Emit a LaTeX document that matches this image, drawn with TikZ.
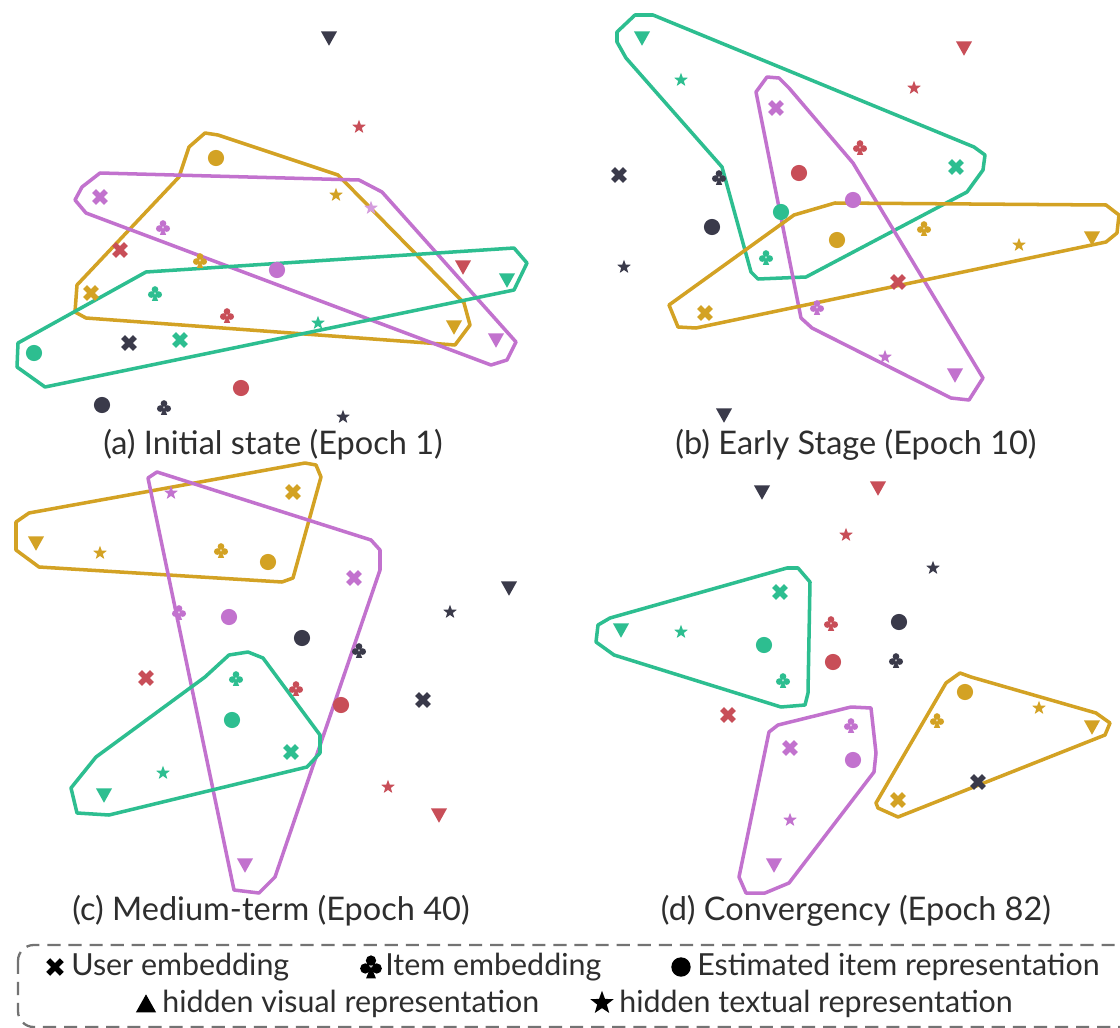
\documentclass[tikz,border=0pt]{standalone}
\usepackage{fontspec}
\setmainfont{Lato}
\newfontfamily\capfont{Lato}
\definecolor{cT}{HTML}{2DBE90}
\definecolor{cP}{HTML}{C272CE}
\definecolor{cG}{HTML}{D3A224}
\definecolor{cR}{HTML}{C84E58}
\definecolor{cD}{HTML}{3A3A4A}
\tikzset{
  mkuser/.pic={\draw[line width=3.1pt] (-3.4pt,-3.4pt)--(3.4pt,3.4pt) (-3.4pt,3.4pt)--(3.4pt,-3.4pt);},
  mkitem/.pic={\fill (0,2pt) circle[radius=1.9pt] (-2.1pt,-0.9pt) circle[radius=1.9pt] (2.1pt,-0.9pt) circle[radius=1.9pt];
                \fill (0,0) -- (-1.8pt,-4.5pt) -- (1.8pt,-4.5pt) -- cycle;},
  mkest/.pic={\fill (0,0) circle[radius=4.6pt];},
  mkvis/.pic={\fill (-4.6pt,3.8pt) -- (4.6pt,3.8pt) -- (0,-4.4pt) -- cycle;},
  mktxt/.pic={\fill (90:4.1pt) -- (126:1.7pt) -- (162:4.1pt) -- (198:1.7pt) -- (234:4.1pt) -- (270:1.7pt)
                -- (306:4.1pt) -- (342:1.7pt) -- (18:4.1pt) -- (54:1.7pt) -- cycle;},
  hull/.style={line width=2pt, line join=round},
  captxt/.style={font=\capfont\fontsize{18.5pt}{22pt}\selectfont, text=black!82, inner sep=0pt},
  lgd/.style={font=\fontsize{17.3pt}{20pt}\selectfont, text=black!82, inner sep=0pt, anchor=base west},
}
\newcommand\MkU[3]{\pic[#1] at (#2,#3) {mkuser};}
\newcommand\MkI[3]{\pic[#1] at (#2,#3) {mkitem};}
\newcommand\MkE[3]{\pic[#1] at (#2,#3) {mkest};}
\newcommand\MkV[3]{\pic[#1] at (#2,#3) {mkvis};}
\newcommand\MkT[3]{\pic[#1] at (#2,#3) {mktxt};}
\begin{document}
\begin{tikzpicture}[x=0.02cm,y=-0.02cm]
\useasboundingbox[fill=white] (0,0) rectangle (1120,1028);

% ---------------- panel (a)
\draw[hull,cG] (189,147) -- (205,133) -- (218,135) -- (338,175) -- (464,303) -- (470,325) -- (455,345)
  -- (86,318) -- (75,312) -- (77,285) -- (179,177) -- cycle;
\draw[hull,cP] (100,173) -- (359,180) -- (382,192) -- (516,342) -- (507,360) -- (491,365)
  -- (86,213) -- (75,200) -- (82,187) -- cycle;
\draw[hull,cT] (146,272) -- (514,248) -- (527,263) -- (514,290) -- (45,387) -- (17,367) -- (18,343) -- cycle;
\MkV{cD}{329}{38}
\MkT{cR}{359}{127}
\MkE{cG}{216}{158}
\MkU{cP}{100}{197}
\MkT{cG}{336}{195}
\MkT{cP!70}{371}{208}
\MkI{cP}{163}{227}
\MkU{cR}{120}{250}
\MkI{cG}{200}{260}
\MkE{cP}{277}{270}
\MkV{cR}{463}{267}
\MkV{cT}{507}{280}
\MkU{cG}{91}{293}
\MkI{cT}{155}{293}
\MkI{cR}{227}{315}
\MkT{cT}{318}{323}
\MkV{cG}{454}{327}
\MkU{cD}{129}{343}
\MkU{cT}{180}{340}
\MkE{cT}{34}{353}
\MkV{cP}{496}{340}
\MkE{cD}{102}{405}
\MkI{cD}{164}{407}
\MkE{cR}{241}{388}
\MkT{cD}{343}{417}
\node[captxt] (capa) at (273,445) {(a) Initial state (Epoch 1)};

% ---------------- panel (b)
\draw[hull,cT] (617,32) -- (635,15) -- (653,15) -- (974,147) -- (985,155) -- (983,170) -- (967,192)
  -- (806,277) -- (758,279) -- (751,272) -- (722,167) -- (626,58) -- (617,42) -- cycle;
\draw[hull,cP] (756,92) -- (767,77) -- (779,78) -- (789,88) -- (853,163) -- (983,378) -- (969,400)
  -- (951,398) -- (812,328) -- (801,318) -- cycle;
\draw[hull,cG] (794,215) -- (835,203) -- (1106,205) -- (1119,215) -- (1117,233) -- (1106,242)
  -- (696,328) -- (678,327) -- (669,305) -- cycle;
\MkV{cT}{642}{38}
\MkT{cT}{681}{80}
\MkV{cR}{964}{48}
\MkT{cR}{914}{88}
\MkU{cP}{776}{108}
\MkI{cR}{860}{147}
\MkU{cD}{619}{175}
\MkI{cD}{719}{177}
\MkE{cR}{799}{173}
\MkU{cT}{956}{167}
\MkE{cP}{853}{200}
\MkE{cT}{781}{212}
\MkE{cD}{712}{227}
\MkE{cG}{837}{240}
\MkI{cG}{924}{228}
\MkT{cG}{1019}{245}
\MkV{cG}{1092}{238}
\MkI{cT}{766}{257}
\MkT{cD}{624}{267}
\MkU{cR}{898}{282}
\MkU{cG}{705}{313}
\MkI{cP}{817}{307}
\MkT{cP}{885}{357}
\MkV{cP}{955}{375}
\MkV{cD}{724}{415}
\node[captxt] (capb) at (856,445) {(b) Early Stage (Epoch 10)};

% ---------------- panel (c)
\draw[hull,cG] (16,522) -- (29,513) -- (305,463) -- (316,465) -- (321,477) -- (293,578) -- (282,582)
  -- (39,567) -- (16,550) -- cycle;
\draw[hull,cP] (157,472) -- (371,540) -- (380,550) -- (380,570) -- (275,877) -- (259,893) -- (234,890)
  -- (148,478) -- cycle;
\draw[hull,cT] (229,655) -- (248,652) -- (263,658) -- (320,735) -- (320,753) -- (307,767) -- (109,815)
  -- (77,813) -- (71,788) -- (96,757) -- (205,677) -- cycle;
\MkV{cG}{36}{543}
\MkT{cG}{100}{553}
\MkT{cP}{171}{493}
\MkU{cG}{293}{492}
\MkI{cG}{221}{550}
\MkE{cG}{268}{562}
\MkU{cP}{354}{578}
\MkV{cD}{509}{588}
\MkT{cD}{450}{612}
\MkI{cP}{179}{612}
\MkE{cP}{229}{617}
\MkE{cD}{302}{638}
\MkI{cD}{359}{650}
\MkU{cR}{146}{678}
\MkI{cT}{236}{678}
\MkI{cR}{296}{688}
\MkE{cR}{341}{705}
\MkU{cD}{423}{700}
\MkE{cT}{232}{720}
\MkU{cT}{291}{752}
\MkT{cT}{163}{773}
\MkT{cR}{388}{787}
\MkV{cT}{104}{795}
\MkV{cR}{439}{815}
\MkV{cP}{245}{865}
\node[captxt] (capc) at (271,911) {(c) Medium-term (Epoch 40)};

% ---------------- panel (d)
\draw[hull,cT] (598,625) -- (596,642) -- (614,655) -- (781,707) -- (805,705) -- (808,693) -- (810,582)
  -- (798,568) -- (787,568) -- (610,618) -- cycle;
\draw[hull,cP] (778,725) -- (851,707) -- (871,708) -- (876,753) -- (874,772) -- (789,883) -- (765,893)
  -- (746,893) -- (739,877) -- (769,732) -- cycle;
\draw[hull,cG] (960,673) -- (971,677) -- (1096,713) -- (1110,723) -- (1105,735) -- (898,817) -- (878,808)
  -- (876,803) -- (946,683) -- cycle;
\MkV{cD}{762}{492}
\MkV{cR}{878}{488}
\MkT{cR}{846}{535}
\MkT{cD}{933}{568}
\MkU{cT}{780}{592}
\MkV{cT}{621}{630}
\MkT{cT}{681}{632}
\MkE{cT}{764}{645}
\MkI{cR}{831}{623}
\MkE{cD}{899}{622}
\MkE{cR}{833}{662}
\MkI{cD}{896}{660}
\MkI{cT}{783}{680}
\MkE{cG}{965}{692}
\MkI{cG}{937}{720}
\MkT{cG}{1039}{708}
\MkV{cG}{1092}{727}
\MkU{cR}{728}{715}
\MkI{cP}{851}{725}
\MkU{cP}{790}{748}
\MkE{cP}{853}{760}
\MkU{cD}{978}{782}
\MkU{cG}{898}{800}
\MkT{cP}{790}{820}
\MkV{cP}{774}{865}
\node[captxt] (capd) at (856,911) {(d) Convergency (Epoch 82)};

% ---------------- legend
\draw[black!55, line width=1.3pt, dash pattern=on 7.5pt off 4.5pt, rounded corners=9pt] (18,945) rectangle (1135,1027);
\pic[black, scale=1.15] at (55,967) {mkuser};
\node[lgd] (l1) at (71,975) {User embedding};
\pic[black, scale=1.55] at (371,966) {mkitem};
\node[lgd] (l2) at (385,975) {Item embedding};
\pic[black, scale=1.2] at (681,967) {mkest};
\node[lgd] (l3) at (697,975) {Estimated item representation};
\pic[black, scale=1.25, rotate=180] at (146,1004) {mkvis};
\node[lgd] (l4) at (162,1012) {hidden visual representation};
\pic[black, scale=1.7] at (602,1003) {mktxt};
\node[lgd] (l5) at (619,1012) {hidden textual representation};
\end{tikzpicture}
\end{document}
